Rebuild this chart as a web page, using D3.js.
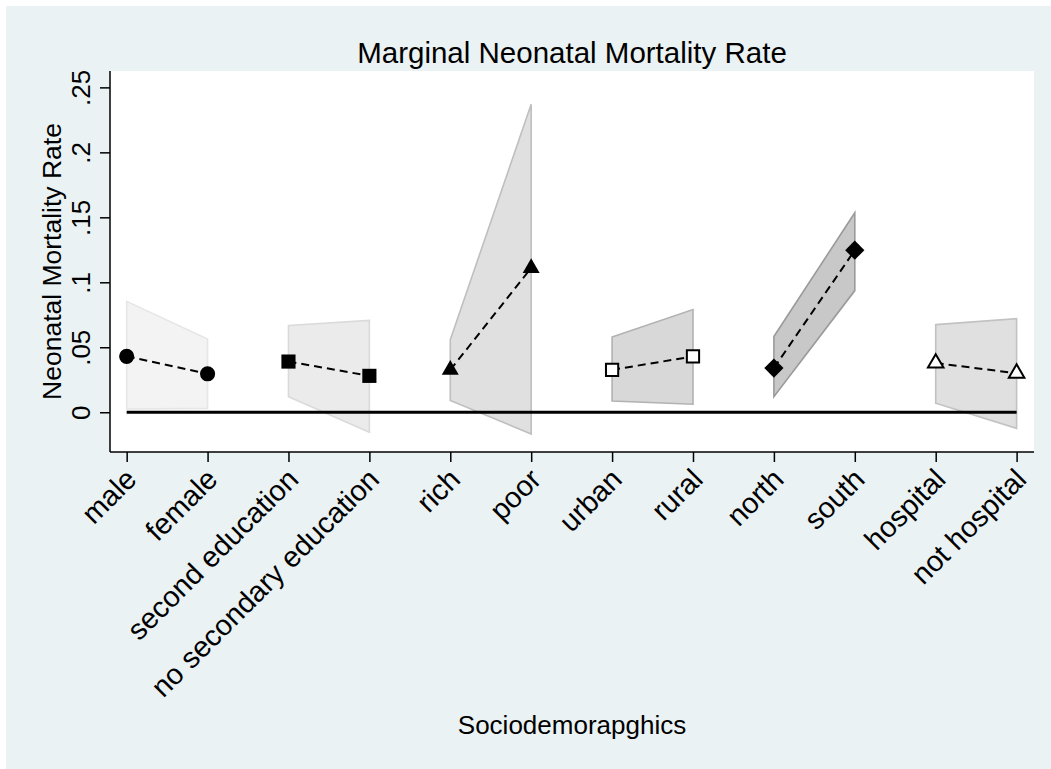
<!DOCTYPE html>
<html>
<head>
<meta charset="utf-8">
<script src="https://cdn.jsdelivr.net/npm/d3@7/dist/d3.min.js"></script>
<style>
  html, body { margin: 0; padding: 0; background: #ffffff; }
  svg { display: block; }
  text { font-family: "Liberation Sans", Arial, Helvetica, sans-serif; fill: #000; }
</style>
</head>
<body>
<svg id="chart" width="1051" height="769"></svg>
<script>
// ---- data ----
const categories = ["male", "female", "second education", "no secondary education",
  "rich", "poor", "urban", "rural", "north", "south", "hospital", "not hospital"];
const estimates = [0.043, 0.0296, 0.039, 0.028, 0.0326, 0.111, 0.0326, 0.0429, 0.034, 0.1247, 0.0378, 0.030];
const lower = [0.0025, 0.003, 0.012, -0.0154, 0.009, -0.0167, 0.0087, 0.0062, 0.012, 0.0936, 0.0069, -0.0124];
const upper = [0.0853, 0.0563, 0.0668, 0.0707, 0.0558, 0.237, 0.0579, 0.079, 0.0583, 0.1535, 0.0674, 0.072];
const yTicks = [0, 0.05, 0.1, 0.15, 0.2, 0.25];
const yTickLabels = ["0", ".05", ".1", ".15", ".2", ".25"];
const groupNames = ["sex", "education", "wealth", "residence", "region", "delivery"];

const title = "Marginal Neonatal Mortality Rate";
const yTitle = "Neonatal Mortality Rate";
const xTitle = "Sociodemorapghics";

// ---- styles per group ----
const bandFill = ["#f3f3f3", "#ebebeb", "#e0e0e0", "#d8d8d8", "#c8c8c8", "#e0e0e0"];
const bandStroke = ["#e6e6e6", "#dadada", "#bfbfbf", "#b2b2b2", "#9a9a9a", "#c2c2c2"];
const markerStyle = [
  {type: d3.symbolCircle, size: 180, fill: true, rot: 0},
  {type: d3.symbolSquare, size: 200, fill: true, rot: 0},
  {type: d3.symbolTriangle, size: 125, fill: true, rot: 0},
  {type: d3.symbolSquare, size: 150, fill: false, rot: 0},
  {type: d3.symbolSquare, size: 185, fill: true, rot: 45},
  {type: d3.symbolTriangle, size: 105, fill: false, rot: 0}
];

const W = 1051, H = 769;
const svg = d3.select("#chart");

// outer background (graph region)
svg.append("rect").attr("x", 0).attr("y", 0).attr("width", W).attr("height", H).attr("fill", "#ffffff");
svg.append("rect").attr("x", 6).attr("y", 6).attr("width", W - 6).attr("height", H - 6).attr("fill", "#eaf2f3");

const plot = {left: 110, right: 1034, top: 71, bottom: 452};
svg.append("rect").attr("x", plot.left).attr("y", plot.top)
  .attr("width", plot.right - plot.left).attr("height", plot.bottom - plot.top).attr("fill", "#ffffff");

const x = d3.scaleLinear().domain([0.794, 12.215]).range([plot.left, plot.right]);
const y = d3.scaleLinear().domain([-0.0306, 0.2626]).range([plot.bottom, plot.top]);

// groups of pairs
const groups = groupNames.map((g, gi) => {
  const idx = [gi * 2, gi * 2 + 1];
  return {gi, pts: idx.map(i => ({pos: i + 1, est: estimates[i], lo: lower[i], hi: upper[i]}))};
});

// CI bands
const area = d3.area().x(d => x(d.pos)).y0(d => y(d.lo)).y1(d => y(d.hi));
svg.append("g").selectAll("path").data(groups).join("path")
  .attr("d", g => area(g.pts))
  .attr("fill", g => bandFill[g.gi])
  .attr("stroke", g => bandStroke[g.gi])
  .attr("stroke-width", 1.6)
  .attr("stroke-linejoin", "miter");

// zero reference line
svg.append("line")
  .attr("x1", x(1)).attr("x2", x(12))
  .attr("y1", y(0)).attr("y2", y(0))
  .attr("stroke", "#000").attr("stroke-width", 3);

// dashed connecting lines
const line = d3.line().x(d => x(d.pos)).y(d => y(d.est));
svg.append("g").selectAll("path").data(groups).join("path")
  .attr("d", g => line(g.pts))
  .attr("fill", "none").attr("stroke", "#000")
  .attr("stroke-width", 2).attr("stroke-dasharray", "8,5");

// markers
const mg = svg.append("g");
groups.forEach(g => {
  const st = markerStyle[g.gi];
  const sym = d3.symbol().type(st.type).size(st.size);
  mg.selectAll(null).data(g.pts).join("path")
    .attr("d", sym)
    .attr("transform", d => `translate(${x(d.pos)},${y(d.est)}) rotate(${st.rot})`)
    .attr("fill", st.fill ? "#000" : "#fff")
    .attr("stroke", "#000")
    .attr("stroke-width", st.fill ? 0 : 2);
});

// y axis
const yAxis = d3.axisLeft(y).tickValues(yTicks).tickFormat((d, i) => yTickLabels[i])
  .tickSize(10).tickPadding(0);
const gy = svg.append("g").attr("transform", `translate(${plot.left},0)`).call(yAxis);
gy.select(".domain").attr("d", `M0,${plot.top}V${plot.bottom}`).attr("stroke", "#000").attr("stroke-width", 1.5);
gy.selectAll(".tick line").attr("stroke", "#000").attr("stroke-width", 1.5);
gy.selectAll(".tick text")
  .attr("x", null).attr("dy", null)
  .attr("transform", "translate(-20,0) rotate(-90)")
  .attr("text-anchor", "middle")
  .style("font-size", "26px")
  .style("font-family", "'Liberation Sans', Arial, sans-serif")
  .attr("fill", "#000");

// x axis
const xAxis = d3.axisBottom(x).tickValues(d3.range(1, 13)).tickFormat(d => categories[d - 1])
  .tickSize(10).tickPadding(0);
const gx = svg.append("g").attr("transform", `translate(0,${plot.bottom})`).call(xAxis);
gx.select(".domain").attr("d", `M${plot.left},0H${plot.right}`).attr("stroke", "#000").attr("stroke-width", 1.5);
gx.selectAll(".tick line").attr("stroke", "#000").attr("stroke-width", 1.5);
gx.selectAll(".tick text")
  .attr("y", null).attr("dy", null)
  .attr("transform", "translate(4,22) rotate(-45)")
  .attr("text-anchor", "end")
  .attr("dominant-baseline", "central")
  .style("font-size", "29px")
  .style("font-family", "'Liberation Sans', Arial, sans-serif")
  .attr("fill", "#000");

// titles
svg.append("text").attr("x", 572).attr("y", 63).attr("text-anchor", "middle")
  .style("font-size", "29.5px").text(title);
svg.append("text").attr("transform", `translate(61,${(plot.top + plot.bottom) / 2}) rotate(-90)`)
  .attr("text-anchor", "middle").style("font-size", "26.5px").text(yTitle);
svg.append("text").attr("x", 572).attr("y", 734).attr("text-anchor", "middle")
  .style("font-size", "26px").text(xTitle);
</script>
</body>
</html>
